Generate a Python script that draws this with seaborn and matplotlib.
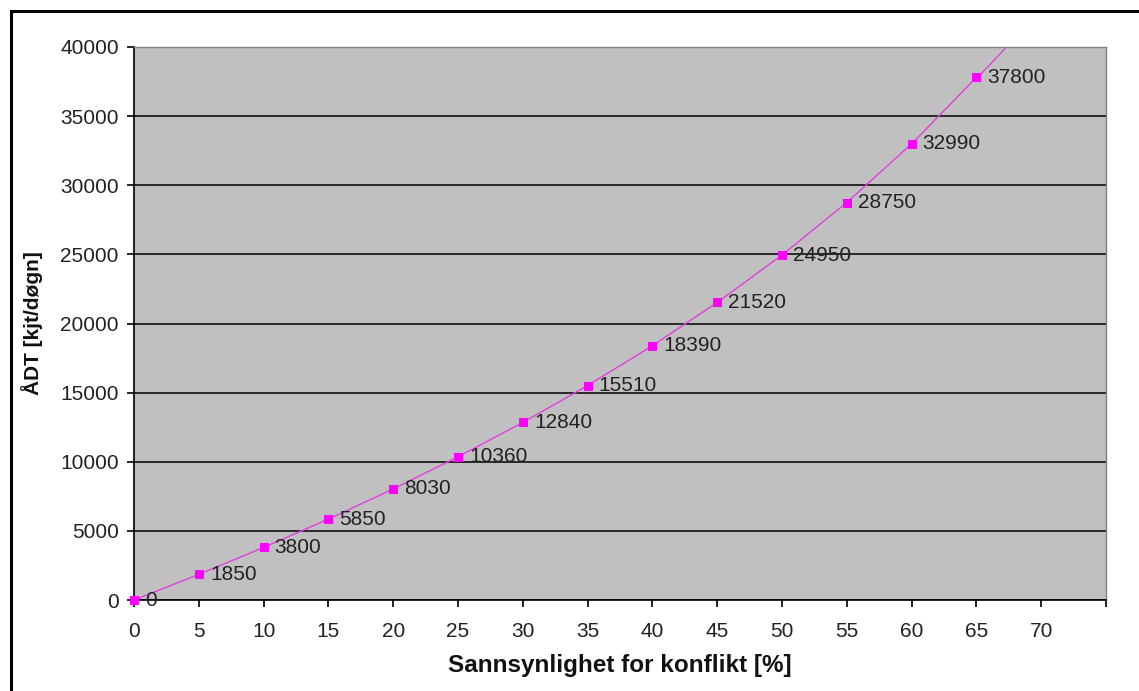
import numpy as np
import pandas as pd
import matplotlib
matplotlib.use("Agg")
import matplotlib.pyplot as plt
from matplotlib.patches import Rectangle
import seaborn as sns

# Conflict probability (%) and corresponding traffic volume (vehicles/day)
probability = [0, 5, 10, 15, 20, 25, 30, 35, 40, 45, 50, 55, 60, 65]
adt = [0, 1850, 3800, 5850, 8030, 10360, 12840, 15510, 18390, 21520,
       24950, 28750, 32990, 37800]
x_ticks = [0, 5, 10, 15, 20, 25, 30, 35, 40, 45, 50, 55, 60, 65, 70, 75]
y_ticks = [0, 5000, 10000, 15000, 20000, 25000, 30000, 35000, 40000]

df = pd.DataFrame({"p": probability, "adt": adt})

sns.set_theme(style="white")
plt.rcParams["font.family"] = ["Liberation Sans", "DejaVu Sans"]

fig = plt.figure(figsize=(11.39, 6.91), dpi=100)
ax = fig.add_axes([134 / 1139, 1 - 600 / 691, (1106 - 134) / 1139, (600 - 47) / 691])
ax.set_facecolor("#c0c0c0")

# Horizontal gridlines
ax.set_axisbelow(True)
ax.yaxis.grid(True, color="black", linewidth=1.1)
ax.xaxis.grid(False)

# Cubic trend through the series, extended a little past the last point
coef = np.polyfit(df["p"], df["adt"], 3)
x_ext = np.linspace(probability[-1], 67.2, 20)
ax.plot(x_ext, np.polyval(coef, x_ext), color="#e040e0", linewidth=1.0,
        clip_on=False, zorder=3)

sns.lineplot(data=df, x="p", y="adt", ax=ax, color="#e040e0", linewidth=1.0,
             marker="s", markersize=6, markerfacecolor="#ff00ff",
             markeredgecolor="#ff00ff", clip_on=False, zorder=4)

for p, v in zip(probability, adt):
    ax.annotate(f"{v}", (p, v), xytext=(8, 0), textcoords="offset points",
                ha="left", va="center", fontsize=15, color="#222222",
                zorder=5, annotation_clip=False)

ax.set_xlim(0, 75)
ax.set_ylim(0, 40000)
ax.set_xticks(x_ticks)
ax.set_xticklabels([str(t) if t < 75 else "" for t in x_ticks])
ax.set_yticks(y_ticks)
ax.set_yticklabels([str(t) for t in y_ticks])
ax.tick_params(axis="both", direction="out", length=5, width=1.2,
               color="black", labelsize=15, labelcolor="#222222",
               bottom=True, left=True)
ax.tick_params(axis="x", pad=11)
ax.tick_params(axis="y", pad=6)

for side in ["left", "bottom"]:
    ax.spines[side].set_color("black")
    ax.spines[side].set_linewidth(1.2)
for side in ["top", "right"]:
    ax.spines[side].set_color("#808080")
    ax.spines[side].set_linewidth(1.0)

ax.set_xlabel("Sannsynlighet for konflikt [%]", fontsize=17.5, fontweight="bold",
              color="#111111", labelpad=9)
ax.set_ylabel("ÅDT [kjt/døgn]", fontsize=15, fontweight="bold",
              color="#111111", labelpad=12)

# Outer frame around the chart
fig.patches.append(Rectangle((11 / 1139, -0.05), 1.2, 1 - 11 / 691 + 0.05,
                             transform=fig.transFigure, fill=False,
                             edgecolor="black", linewidth=2.2))

fig.savefig("out.png", dpi=100, facecolor="white")
